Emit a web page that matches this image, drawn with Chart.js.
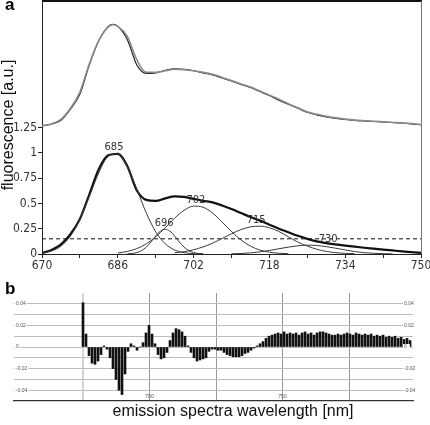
<!DOCTYPE html>
<html><head><meta charset="utf-8">
<script src="https://cdn.jsdelivr.net/npm/chart.js@4/dist/chart.umd.min.js"></script>
<style>
html,body{margin:0;padding:0;background:#fff;width:430px;height:425px;overflow:hidden;position:relative;font-family:'Liberation Sans',Arial,sans-serif}
#ca{position:absolute;left:0;top:0;width:430px;height:280px}
#cb{position:absolute;left:0;top:280px;width:430px;height:145px}
.lbl{position:absolute;font-weight:bold;font-size:17px;line-height:1;color:#000}
#xt{position:absolute;left:33px;width:400px;top:403px;text-align:center;font-size:16px;line-height:1;color:#111}
</style></head><body>
<div id="ca"><canvas id="c1" width="430" height="280"></canvas></div>
<div id="cb"><canvas id="c2" width="430" height="145"></canvas></div>
<div class="lbl" style="left:5px;top:-4px">a</div>
<div class="lbl" style="left:5px;top:280px">b</div>
<div id="xt">emission spectra wavelength [nm]</div>
<script>
// ---------- panel a data ----------
const wavelengths = [670,672,674,676,678,680,682,684,686,688,690,692,694,696,698,700,702,704,706,708,710,712,714,716,718,720,722,724,726,728,730,732,734,736,738,740,742,744,746,748,750];
const measured = [0.01,0.04,0.095,0.195,0.345,0.59,0.84,0.975,0.99,0.87,0.63,0.535,0.525,0.55,0.57,0.565,0.545,0.525,0.51,0.48,0.445,0.405,0.365,0.33,0.29,0.25,0.215,0.18,0.15,0.125,0.108,0.095,0.083,0.072,0.062,0.053,0.044,0.035,0.026,0.018,0.012];

const upperWl = [670,672,674,676,678,680,682,684,685,686,688,690,692,694,696,698,700,702,704,706,708,710,712,714,716,718,720,722,724,726,728,730,732,734,736,738,740,742,744,746,748,750];
const upperData = [1.267,1.285,1.32,1.43,1.58,1.87,2.11,2.25,2.27,2.25,2.12,1.87,1.785,1.79,1.815,1.83,1.825,1.81,1.79,1.77,1.74,1.71,1.675,1.645,1.605,1.565,1.52,1.48,1.44,1.40,1.375,1.355,1.34,1.33,1.32,1.315,1.31,1.305,1.30,1.295,1.285,1.277];
const upperFit = [1.265,1.285,1.33,1.44,1.60,1.88,2.11,2.245,2.265,2.25,2.15,1.92,1.795,1.795,1.81,1.825,1.82,1.81,1.795,1.775,1.745,1.715,1.68,1.65,1.61,1.57,1.53,1.485,1.445,1.405,1.38,1.36,1.345,1.333,1.323,1.317,1.312,1.306,1.30,1.296,1.288,1.28];

const c685Wl = [670,672,674,676,678,680,682,684,686,688,690,692,694,696,698,700,702,704];
const c685 = [0.009,0.029,0.078,0.177,0.344,0.57,0.804,0.967,0.99,0.864,0.643,0.407,0.22,0.101,0.04,0.013,0.004,0.001];
const c696Wl = [688,689,690,691,692,693,694,695,696,697,698,699,700,701,702,703,704];
const c696 = [0.002,0.005,0.014,0.033,0.068,0.119,0.178,0.226,0.245,0.226,0.178,0.119,0.068,0.033,0.014,0.005,0.002];
const c702Wl = [686,688,690,692,694,696,698,700,702,704,706,708,710,712,714,716,718,720,722];
const c702 = [0.01,0.025,0.053,0.1,0.17,0.259,0.354,0.432,0.473,0.462,0.405,0.317,0.222,0.139,0.078,0.039,0.018,0.007,0.003];
const c715Wl = [698,700,702,704,706,708,710,712,714,716,718,720,722,724,726,728,730,732,734,736];
const c715 = [0.012,0.023,0.042,0.07,0.107,0.153,0.2,0.241,0.268,0.275,0.259,0.222,0.17,0.118,0.078,0.047,0.026,0.013,0.006,0.003];
const c730Wl = [710,712,714,716,718,720,722,724,726,728,730,732,734,736,738,740,742,744];
const c730 = [0.002,0.005,0.011,0.021,0.035,0.052,0.068,0.081,0.087,0.084,0.073,0.057,0.04,0.024,0.013,0.007,0.003,0.001];

const thresholdWl = [670,750];
const threshold = [0.15,0.15];

const peakNames = ['685','696','702','715','730'];
const peakLabelWl = [685.2,695.8,702.5,715.2,730.4];
const peakAmps = [1.0,0.245,0.475,0.275,0.09];

const yTickValues = [0,0.25,0.5,0.75,1,1.25];
const xLabelValues = [670,686,702,718,734,750];

// ---------- panel b data ----------
const resStart = 675, resStep = 1.128;
const residuals = [0.041,0.012,-0.008,-0.015,-0.016,-0.013,-0.007,0.001,-0.002,-0.010,-0.020,-0.030,-0.040,-0.044,-0.025,-0.004,0.003,0.001,-0.003,0.000,0.004,0.013,0.020,0.012,0.003,-0.007,-0.011,-0.010,-0.005,0.006,0.013,0.017,0.016,0.014,0.010,0.001,-0.005,-0.010,-0.013,-0.012,-0.011,-0.010,-0.004,-0.002,-0.002,-0.003,-0.003,-0.005,-0.007,-0.008,-0.009,-0.009,-0.009,-0.008,-0.006,-0.005,-0.003,-0.001,0.001,0.003,0.005,0.008,0.010,0.011,0.012,0.013,0.012,0.014,0.012,0.013,0.012,0.013,0.011,0.013,0.014,0.012,0.013,0.011,0.013,0.014,0.014,0.013,0.012,0.011,0.011,0.012,0.011,0.012,0.013,0.012,0.011,0.013,0.012,0.011,0.012,0.011,0.012,0.010,0.011,0.010,0.011,0.009,0.010,0.009,0.010,0.008,0.009,0.007,0.008,0.006];
const resGridValues = [675,700,725,750,775];
const resXLabels = [700,750];
const resYLabels = [0.04,0.02,0,-0.02,-0.04];

const NARROW = "'Liberation Sans Narrow','DejaVu Sans Condensed','Liberation Sans',sans-serif";
const pts = (xs, ys) => xs.map((x,i)=>({x:x, y:ys[i]}));

const compStyle = {borderColor:'#3a3a3a', borderWidth:1, pointRadius:0, cubicInterpolationMode:'monotone', fill:false};

const panelAPlugin = {
  id:'panelA',
  afterDatasetsDraw(chart){
    const {ctx, chartArea:a, scales:{x,y}} = chart;
    ctx.save();
    ctx.strokeStyle='#111'; ctx.lineWidth=2;
    ctx.beginPath(); ctx.moveTo(a.left, a.top); ctx.lineTo(a.right+1, a.top); ctx.stroke();
    ctx.strokeStyle='#777'; ctx.lineWidth=1;
    ctx.beginPath(); ctx.moveTo(a.right+0.5, a.top); ctx.lineTo(a.right+0.5, a.bottom); ctx.stroke();
    ctx.fillStyle='#333'; ctx.font="11px "+NARROW; ctx.textAlign='center'; ctx.textBaseline='middle';
    peakNames.forEach((n,i)=>{
      ctx.fillText(n, x.getPixelForValue(peakLabelWl[i]), y.getPixelForValue(peakAmps[i])-6);
    });
    ctx.translate(9, 125); ctx.rotate(-Math.PI/2);
    ctx.fillStyle='#111'; ctx.font="16px 'Liberation Sans',Arial,sans-serif";
    ctx.fillText('fluorescence [a.u.]', 0, 0);
    ctx.restore();
  }
};

new Chart(document.getElementById('c1'), {
  type:'line',
  data:{datasets:[
    Object.assign({data:pts(c685Wl,c685)}, compStyle),
    Object.assign({data:pts(c696Wl,c696)}, compStyle),
    Object.assign({data:pts(c702Wl,c702)}, compStyle),
    Object.assign({data:pts(c715Wl,c715)}, compStyle),
    Object.assign({data:pts(c730Wl,c730)}, compStyle),
    {data:pts(thresholdWl,threshold), borderColor:'#111', borderWidth:1, borderDash:[4,3], pointRadius:0},
    {data:pts(wavelengths,measured), borderColor:'#111', borderWidth:2.2, pointRadius:0, cubicInterpolationMode:'monotone'},
    {data:pts(upperWl,upperFit), borderColor:'#8a8a8a', borderWidth:1.6, pointRadius:0, cubicInterpolationMode:'monotone'},
    {data:pts(upperWl,upperData), borderColor:'#111', borderWidth:1.1, pointRadius:0, cubicInterpolationMode:'monotone'}
  ]},
  options:{
    responsive:false, animation:false, events:[],
    layout:{padding:{top:1,right:9,left:0,bottom:0}},
    plugins:{legend:{display:false}, tooltip:{enabled:false}},
    scales:{
      x:{type:'linear', min:670, max:750,
        ticks:{stepSize:8, autoSkip:false, maxRotation:0, padding:1, color:'#333', font:{family:NARROW,size:12},
          callback:(v)=> xLabelValues.includes(v) ? String(v) : ''},
        grid:{drawOnChartArea:false, tickLength:4, color:'#222'},
        border:{color:'#222', width:1},
        afterFit:(s)=>{s.height=26; s.paddingLeft=0; s.paddingRight=0;}
      },
      y:{type:'linear', min:0, max:2.5,
        afterBuildTicks:(s)=>{s.ticks = yTickValues.map(v=>({value:v}));},
        ticks:{padding:1, color:'#333', font:{family:NARROW,size:12}, callback:(v)=>String(v)},
        grid:{drawOnChartArea:false, tickLength:4, color:'#222'},
        border:{color:'#222', width:1},
        afterFit:(s)=>{s.width=42; s.paddingTop=0; s.paddingBottom=0;}
      }
    }
  },
  plugins:[panelAPlugin]
});

// ---------- panel b ----------
const resData = residuals.map((v,i)=>({x: resStart + i*resStep, y: v}));

const panelBPlugin = {
  id:'panelB',
  afterDatasetsDraw(chart){
    const {ctx, chartArea:a, scales:{x,y}} = chart;
    ctx.save();
    ctx.font="5px 'Liberation Sans',Arial,sans-serif";
    ctx.textBaseline='middle';
    resYLabels.forEach(v=>{
      const t = v===0 ? '0' : v.toFixed(2);
      const py = y.getPixelForValue(v);
      ctx.textAlign='left';
      let w = ctx.measureText(t).width;
      ctx.fillStyle='#fff'; ctx.fillRect(15, py-3, w+2, 6);
      ctx.fillStyle='#555'; ctx.fillText(t, 16, py);
      ctx.fillStyle='#fff'; ctx.fillRect(403, py-3, w+4, 6);
      ctx.fillStyle='#555'; ctx.fillText(t, 404, py);
    });
    ctx.textAlign='center';
    resXLabels.forEach(v=>{
      ctx.fillStyle='#555';
      ctx.fillText(String(v), x.getPixelForValue(v), a.bottom-4);
    });
    ctx.restore();
  }
};

new Chart(document.getElementById('c2'), {
  type:'bar',
  data:{datasets:[{data:resData, backgroundColor:'#111', borderWidth:0, barThickness:2}]},
  options:{
    responsive:false, animation:false, events:[],
    layout:{padding:{top:13,right:17,left:14,bottom:0}},
    plugins:{legend:{display:false}, tooltip:{enabled:false}},
    scales:{
      x:{type:'linear', min:649.06, max:799.06, offset:false,
        afterBuildTicks:(s)=>{s.ticks = resGridValues.map(v=>({value:v}));},
        ticks:{display:false},
        grid:{offset:false, drawTicks:false, color:(c)=> c.index===0 ? '#d4d4d4' : '#9a9a9a', lineWidth:(c)=> c.index===0 ? 2 : 1},
        border:{color:'#333', width:1.2},
        afterFit:(s)=>{s.height=24;}
      },
      y:{type:'linear', min:-0.05, max:0.05,
        ticks:{display:false, stepSize:0.01},
        grid:{drawTicks:false, color:(c)=> (Math.abs(Math.abs(c.tick.value)-0.05)<1e-6) ? 'rgba(0,0,0,0)' : '#bdbdbd'},
        border:{display:false},
        afterFit:(s)=>{s.width=0;}
      }
    }
  },
  plugins:[panelBPlugin]
});
</script>
</body></html>
